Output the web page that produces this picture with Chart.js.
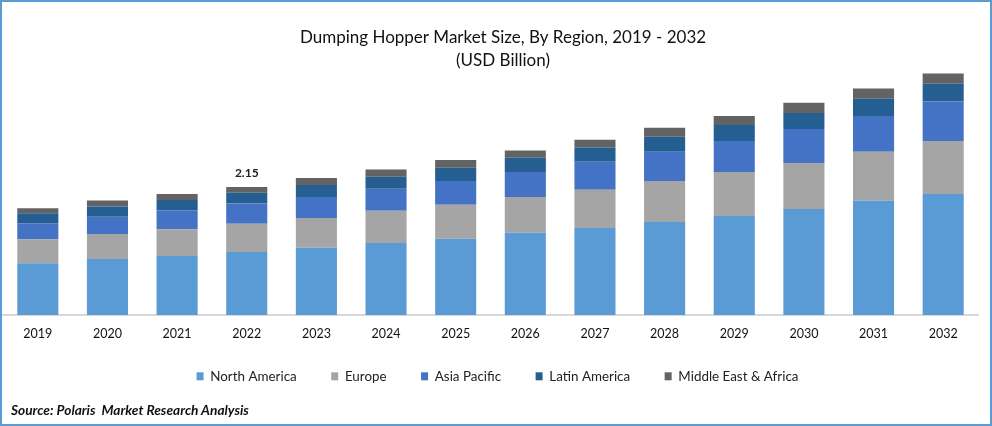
<!DOCTYPE html>
<html>
<head>
<meta charset="utf-8">
<script src="https://cdn.jsdelivr.net/npm/chart.js@4/dist/chart.umd.min.js"></script>
<style>
  html, body { margin: 0; padding: 0; background: #fff; overflow: hidden; }
  #frame { position: relative; width: 992px; height: 426px; box-sizing: border-box; border: 2px solid #5b9bd5; }
  #source { position: absolute; left: 9px; top: 399px; font: italic bold 13.7px Lato, sans-serif; color: #111; }
</style>
</head>
<body>
<div id="frame">
  <canvas id="myChart"></canvas>
  <div id="source">Source: Polaris&nbsp; Market Research Analysis</div>
</div>
<script>
const years = ['2019','2020','2021','2022','2023','2024','2025','2026','2027','2028','2029','2030','2031','2032'];
const northAmerica = [0.87,0.94,0.99,1.06,1.13,1.21,1.28,1.38,1.46,1.56,1.66,1.78,1.92,2.03];
const europe = [0.40,0.42,0.45,0.47,0.50,0.54,0.57,0.60,0.64,0.69,0.74,0.77,0.82,0.89];
const asiaPacific = [0.27,0.29,0.32,0.34,0.35,0.37,0.40,0.42,0.47,0.49,0.52,0.57,0.60,0.66];
const latinAmerica = [0.17,0.17,0.17,0.18,0.20,0.20,0.22,0.24,0.24,0.25,0.27,0.27,0.29,0.30];
const middleEast = [0.08,0.10,0.10,0.10,0.12,0.12,0.13,0.12,0.13,0.15,0.15,0.17,0.17,0.17];
const totalLabels = [null,null,null,'2.15',null,null,null,null,null,null,null,null,null,null];

const fontName = 'Lato, sans-serif';

// only 2022 has a value printed over the stack
const totalLabelPlugin = {
  id: 'totalLabel',
  afterDatasetsDraw(chart) {
    const ctx = chart.ctx;
    const topBars = chart.getDatasetMeta(4).data;
    ctx.save();
    ctx.font = 'bold 12px ' + fontName;
    ctx.fillStyle = '#222';
    ctx.textAlign = 'center';
    ctx.textBaseline = 'bottom';
    totalLabels.forEach((text, i) => {
      if (text) ctx.fillText(text, topBars[i].x, topBars[i].y - 8);
    });
    ctx.restore();
  }
};

// title and legend are not centred on the plot in the original, nudge them
const nudgePlugin = {
  id: 'nudge',
  afterLayout(chart) {
    chart.titleBlock.left += 25;
    chart.legend.left += 14;
    chart.legend.top -= 6;
  }
};

function bar(label, data, color) {
  return { label: label, data: data, backgroundColor: color, barPercentage: 0.59, categoryPercentage: 1 };
}

new Chart(document.getElementById('myChart'), {
  type: 'bar',
  data: {
    labels: years,
    datasets: [
      bar('North America', northAmerica, '#5b9bd5'),
      bar('Europe', europe, '#a5a5a5'),
      bar('Asia Pacific', asiaPacific, '#4472c4'),
      bar('Latin America', latinAmerica, '#255e91'),
      bar('Middle East & Africa', middleEast, '#636363')
    ]
  },
  plugins: [totalLabelPlugin, nudgePlugin],
  options: {
    responsive: true,
    maintainAspectRatio: false,
    animation: false,
    layout: { padding: { left: 1, right: 12, bottom: 25 } },
    plugins: {
      title: {
        display: true,
        text: ['Dumping Hopper Market Size, By Region, 2019 - 2032', '(USD Billion)'],
        color: '#111',
        font: { family: fontName, size: 17, weight: 'normal', lineHeight: 1.35 },
        padding: { top: 24.5, bottom: 0 }
      },
      legend: {
        position: 'bottom',
        labels: { boxWidth: 7, boxHeight: 8, padding: 34.5, color: '#222', font: { family: fontName, size: 13.4 } }
      },
      tooltip: { enabled: false }
    },
    scales: {
      x: {
        stacked: true,
        grid: { display: false },
        border: { color: '#d9d9d9', width: 2 },
        ticks: { color: '#111', padding: 3, font: { family: fontName, size: 12.5 } },
        afterFit(scale) { scale.height = 26; }
      },
      y: {
        stacked: true,
        display: false,
        min: 0,
        max: 4.07
      }
    }
  }
});
</script>
</body>
</html>
